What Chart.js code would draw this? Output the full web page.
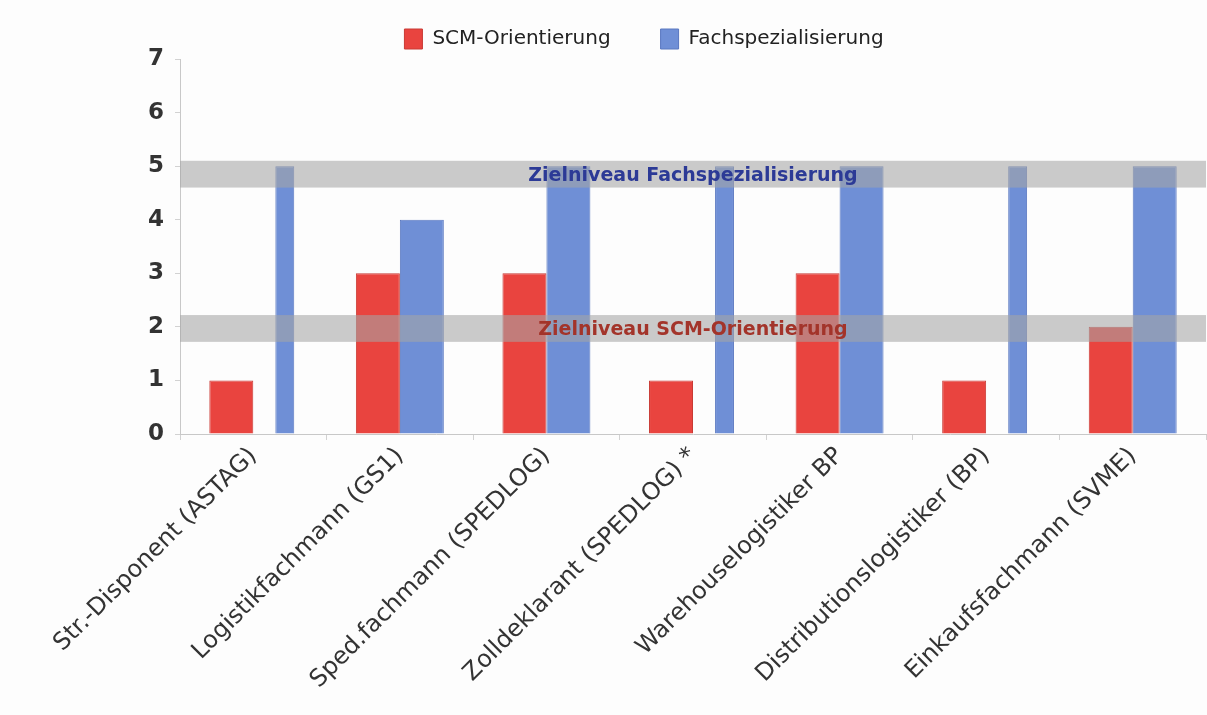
<!DOCTYPE html>
<html>
<head>
<meta charset="utf-8">
<script src="https://cdn.jsdelivr.net/npm/chart.js@4/dist/chart.umd.min.js"></script>
<style>
  html, body { margin: 0; padding: 0; background: #fdfdfd; }
  #wrap { width: 1207px; height: 715px; }
</style>
</head>
<body>
<div id="wrap"><canvas id="chart" width="1207" height="715"></canvas></div>
<script>
const categories = [
  "Str.-Disponent (ASTAG)",
  "Logistikfachmann (GS1)",
  "Sped.fachmann (SPEDLOG)",
  "Zolldeklarant (SPEDLOG) *",
  "Warehouselogistiker BP",
  "Distributionslogistiker (BP)",
  "Einkaufsfachmann (SVME)"
];
const scmValues = [1, 3, 3, 1, 3, 1, 2];
const fachValues = [5, 4, 5, 5, 5, 5, 5];
// these bars are drawn thin in the original
const fachThin = [true, false, false, true, false, true, false];
const yTicks = [0, 1, 2, 3, 4, 5, 6, 7];
const bandLabels = ["Zielniveau Fachspezialisierung", "Zielniveau SCM-Orientierung"];
const bandRanges = [[4.6, 5.1], [1.72, 2.22]];

const fachWide = fachValues.map((v, i) => (fachThin[i] ? null : v));
const fachNarrow = fachValues.map((v, i) => (fachThin[i] ? v : null));

const red = "#e9443f";
const blue = "#6f8fd6";
const font = "'DejaVu Sans', Verdana, sans-serif";

const bandPlugin = {
  id: "bands",
  afterDatasetsDraw(chart) {
    const { ctx, chartArea } = chart;
    const y = chart.scales.y;
    const textColors = ["#2c3a96", "#a3342a"];
    ctx.save();
    bandRanges.forEach((r) => {
      const top = y.getPixelForValue(r[1]);
      const bottom = y.getPixelForValue(r[0]);
      ctx.fillStyle = "rgba(165, 165, 165, 0.58)";
      ctx.fillRect(chartArea.left, top, chartArea.right - chartArea.left, bottom - top);
    });
    bandRanges.forEach((r, i) => {
      const mid = y.getPixelForValue((r[0] + r[1]) / 2);
      ctx.font = "bold 19px " + font;
      ctx.fillStyle = textColors[i];
      ctx.textAlign = "center";
      ctx.textBaseline = "middle";
      ctx.fillText(bandLabels[i], (chartArea.left + chartArea.right) / 2, mid + 2);
    });
    ctx.restore();
  }
};

new Chart(document.getElementById("chart"), {
  type: "bar",
  data: {
    labels: categories,
    datasets: [
      {
        label: "SCM-Orientierung",
        data: scmValues,
        stack: "scm",
        backgroundColor: red,
        borderColor: "#c93a34",
        borderWidth: 1,
        categoryPercentage: 0.6,
        barPercentage: 1
      },
      {
        label: "Fachspezialisierung",
        data: fachWide,
        stack: "fach",
        backgroundColor: blue,
        borderColor: "#5a78c0",
        borderWidth: 1,
        categoryPercentage: 0.6,
        barPercentage: 1
      },
      {
        label: "Fachspezialisierung (schmal)",
        data: fachNarrow,
        stack: "fach",
        backgroundColor: blue,
        borderColor: "#5a78c0",
        borderWidth: 1,
        categoryPercentage: 0.86,
        barPercentage: 0.3
      }
    ]
  },
  options: {
    responsive: false,
    animation: false,
    layout: { padding: { left: 82, right: 1, top: -21, bottom: 0 } },
    plugins: {
      tooltip: { enabled: false },
      legend: {
        position: "top",
        labels: {
          filter: (item) => item.datasetIndex < 2,
          boxWidth: 18,
          boxHeight: 20,
          padding: 50,
          color: "#222",
          font: { family: font, size: 20 }
        }
      }
    },
    scales: {
      x: {
        offset: true,
        grid: { offset: true, drawOnChartArea: false, tickLength: 6, color: "#d2d2d2" },
        border: { color: "#c8c8c8" },
        ticks: {
          minRotation: 45,
          maxRotation: 45,
          padding: 2,
          color: "#333",
          font: { family: font, size: 24 }
        },
        afterFit(scale) { scale.height = 281; }
      },
      y: {
        min: 0,
        max: 7,
        afterBuildTicks(scale) { scale.ticks = yTicks.map((v) => ({ value: v })); },
        grid: { drawOnChartArea: false, tickLength: 5, color: "#d2d2d2" },
        border: { color: "#c8c8c8" },
        ticks: {
          padding: 11,
          color: "#333",
          font: { family: font, size: 23, weight: "bold" }
        },
        afterFit(scale) { scale.width = 98; }
      }
    }
  },
  plugins: [bandPlugin]
});
</script>
</body>
</html>
